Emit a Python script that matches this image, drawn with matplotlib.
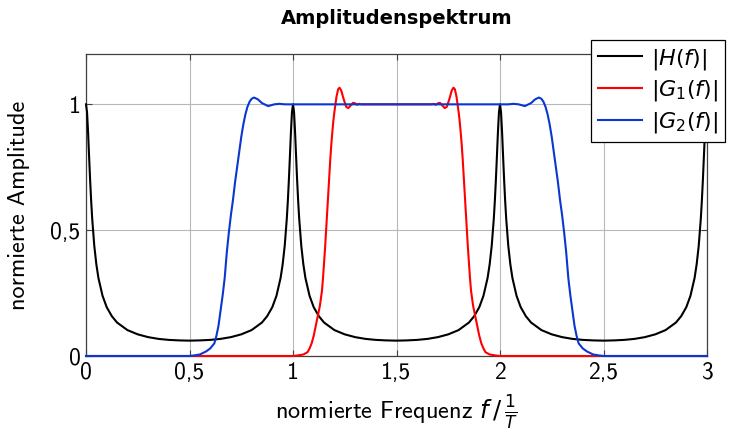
"""Amplitudenspektrum: comb response |H(f)| with two band-pass filters."""

import matplotlib
matplotlib.use("Agg")
import matplotlib.pyplot as plt

# |H(f)| - periodic comb response
h_freq = [
    0.000, 0.005, 0.010, 0.015, 0.020, 0.025, 0.030, 0.040, 0.050, 0.060,
    0.080, 0.100, 0.125, 0.150, 0.200, 0.250, 0.300, 0.350, 0.400, 0.450,
    0.500, 0.550, 0.600, 0.650, 0.700, 0.750, 0.800, 0.850, 0.875, 0.900,
    0.920, 0.940, 0.950, 0.960, 0.970, 0.975, 0.980, 0.985, 0.990, 0.995,
    1.000, 1.005, 1.010, 1.015, 1.020, 1.025, 1.030, 1.040, 1.050, 1.060,
    1.080, 1.100, 1.125, 1.150, 1.200, 1.250, 1.300, 1.350, 1.400, 1.450,
    1.500, 1.550, 1.600, 1.650, 1.700, 1.750, 1.800, 1.850, 1.875, 1.900,
    1.920, 1.940, 1.950, 1.960, 1.970, 1.975, 1.980, 1.985, 1.990, 1.995,
    2.000, 2.005, 2.010, 2.015, 2.020, 2.025, 2.030, 2.040, 2.050, 2.060,
    2.080, 2.100, 2.125, 2.150, 2.200, 2.250, 2.300, 2.350, 2.400, 2.450,
    2.500, 2.550, 2.600, 2.650, 2.700, 2.750, 2.800, 2.850, 2.875, 2.900,
    2.920, 2.940, 2.950, 2.960, 2.970, 2.975, 2.980, 2.985, 2.990, 2.995,
    3.000,
]
h_amp = [
    1.000, 0.969, 0.889, 0.792, 0.698, 0.615, 0.545, 0.438, 0.364, 0.310,
    0.239, 0.194, 0.158, 0.133, 0.103, 0.086, 0.075, 0.068, 0.064, 0.062,
    0.061, 0.062, 0.064, 0.068, 0.075, 0.086, 0.103, 0.133, 0.158, 0.194,
    0.239, 0.310, 0.364, 0.438, 0.545, 0.615, 0.698, 0.792, 0.889, 0.969,
    1.000, 0.969, 0.889, 0.792, 0.698, 0.615, 0.545, 0.438, 0.364, 0.310,
    0.239, 0.194, 0.158, 0.133, 0.103, 0.086, 0.075, 0.068, 0.064, 0.062,
    0.061, 0.062, 0.064, 0.068, 0.075, 0.086, 0.103, 0.133, 0.158, 0.194,
    0.239, 0.310, 0.364, 0.438, 0.545, 0.615, 0.698, 0.792, 0.889, 0.969,
    1.000, 0.969, 0.889, 0.792, 0.698, 0.615, 0.545, 0.438, 0.364, 0.310,
    0.239, 0.194, 0.158, 0.133, 0.103, 0.086, 0.075, 0.068, 0.064, 0.062,
    0.061, 0.062, 0.064, 0.068, 0.075, 0.086, 0.103, 0.133, 0.158, 0.194,
    0.239, 0.310, 0.364, 0.438, 0.545, 0.615, 0.698, 0.792, 0.889, 0.969,
    1.000,
]

# |G1(f)| - narrow band-pass
g1_freq = [
    0.000, 1.000, 1.020, 1.050, 1.070, 1.080, 1.090, 1.100, 1.110, 1.120,
    1.130, 1.140, 1.145, 1.150, 1.155, 1.160, 1.165, 1.170, 1.175, 1.180,
    1.185, 1.190, 1.195, 1.200, 1.205, 1.210, 1.218, 1.225, 1.233, 1.245,
    1.257, 1.267, 1.278, 1.290, 1.300, 1.310, 1.320, 1.330, 1.500,
    1.670, 1.680, 1.690, 1.700, 1.710, 1.722, 1.733, 1.743, 1.755, 1.767,
    1.775, 1.782, 1.790, 1.795, 1.800, 1.805, 1.810, 1.815, 1.820, 1.825,
    1.830, 1.835, 1.840, 1.845, 1.850, 1.855, 1.860, 1.870, 1.880, 1.890,
    1.900, 1.910, 1.920, 1.930, 1.950, 1.980, 2.000, 3.000,
]
g1_amp = [
    0.000, 0.000, 0.002, 0.006, 0.015, 0.030, 0.050, 0.080, 0.120, 0.160,
    0.200, 0.260, 0.310, 0.370, 0.430, 0.500, 0.570, 0.640, 0.710, 0.780,
    0.840, 0.890, 0.935, 0.970, 1.000, 1.030, 1.060, 1.066, 1.055, 1.020,
    0.990, 0.985, 0.995, 1.006, 1.004, 0.998, 1.002, 1.000, 1.000,
    1.000, 1.002, 0.998, 1.004, 1.006, 0.995, 0.985, 0.990, 1.020, 1.055,
    1.066, 1.060, 1.030, 1.000, 0.970, 0.935, 0.890, 0.840, 0.780, 0.710,
    0.640, 0.570, 0.500, 0.430, 0.370, 0.310, 0.260, 0.200, 0.160, 0.120,
    0.080, 0.050, 0.030, 0.015, 0.006, 0.002, 0.000, 0.000,
]

# |G2(f)| - wide band-pass
g2_freq = [
    0.000, 0.500, 0.520, 0.550, 0.580, 0.600, 0.620, 0.630, 0.640, 0.650,
    0.660, 0.670, 0.680, 0.690, 0.700, 0.710, 0.720, 0.730, 0.740, 0.750,
    0.760, 0.770, 0.780, 0.790, 0.800, 0.812, 0.830, 0.850, 0.880, 0.910,
    0.935, 0.960, 1.000, 1.500,
    2.000, 2.040, 2.065, 2.090, 2.120, 2.150, 2.170, 2.188, 2.200, 2.210,
    2.220, 2.230, 2.240, 2.250, 2.260, 2.270, 2.280, 2.290, 2.300, 2.310,
    2.320, 2.330, 2.340, 2.350, 2.360, 2.370, 2.380, 2.400, 2.420, 2.450,
    2.480, 2.500, 3.000,
]
g2_amp = [
    0.000, 0.000, 0.002, 0.006, 0.018, 0.030, 0.050, 0.080, 0.120, 0.180,
    0.240, 0.310, 0.410, 0.490, 0.560, 0.620, 0.690, 0.750, 0.810, 0.870,
    0.920, 0.960, 0.990, 1.010, 1.022, 1.027, 1.020, 1.005, 0.993, 1.000,
    1.002, 1.000, 1.000, 1.000,
    1.000, 1.000, 1.002, 1.000, 0.993, 1.005, 1.020, 1.027, 1.022, 1.010,
    0.990, 0.960, 0.920, 0.870, 0.810, 0.750, 0.690, 0.620, 0.560, 0.490,
    0.410, 0.310, 0.240, 0.180, 0.120, 0.080, 0.050, 0.030, 0.018, 0.006,
    0.002, 0.000, 0.000,
]

x_ticks = [0, 0.5, 1, 1.5, 2, 2.5, 3]
x_tick_labels = ["0", "0,5", "1", "1,5", "2", "2,5", "3"]
y_ticks = [0, 0.5, 1]
y_tick_labels = ["0", "0,5", "1"]

plt.rcParams["font.family"] = ["cmss10", "DejaVu Sans"]
plt.rcParams["mathtext.fontset"] = "dejavusans"
plt.rcParams["axes.formatter.use_mathtext"] = True
plt.rcParams["axes.unicode_minus"] = False

fig = plt.figure(figsize=(7.35, 4.30), dpi=100)
ax = fig.add_axes([86 / 735, 1 - 356 / 430, 621 / 735, 302 / 430])

ax.plot(h_freq, h_amp, color="black", lw=1.5, label=r"$|H(f)|$", clip_on=False, zorder=3)
ax.plot(g1_freq, g1_amp, color="#ff0000", lw=1.5, label=r"$|G_1(f)|$", clip_on=False, zorder=4)
ax.plot(g2_freq, g2_amp, color="#0a37d2", lw=1.5, label=r"$|G_2(f)|$", clip_on=False, zorder=5)

ax.set_xlim(0, 3)
ax.set_ylim(0, 1.2)
ax.set_xticks(x_ticks)
ax.set_xticklabels(x_tick_labels)
ax.set_yticks(y_ticks)
ax.set_yticklabels(y_tick_labels)
ax.tick_params(direction="in", length=4, width=0.8, color="#404040",
               top=True, right=True, labelsize=17, pad=4)
ax.grid(True, color="#b8b8b8", lw=0.8)
ax.set_axisbelow(True)
for spine in ax.spines.values():
    spine.set_color("#404040")
    spine.set_linewidth(0.9)

ax.set_xlabel(r"normierte Frequenz $f\,/\,\frac{1}{T}$", fontsize=17.5)
ax.xaxis.set_label_coords(0.5, -0.125)
ax.set_ylabel("normierte Amplitude", fontsize=17.5)
ax.yaxis.set_label_coords(-0.09, 0.5)

fig.text(396.5 / 735, 1 - 18 / 430, "Amplitudenspektrum", ha="center", va="center",
         fontsize=14, fontweight="bold", family=["DejaVu Sans"])

leg = ax.legend(loc="upper left", bbox_to_anchor=(505 / 621, 316 / 302), fontsize=16,
                frameon=True, fancybox=False, framealpha=1, edgecolor="black",
                handlelength=2.0, handletextpad=0.4, labelspacing=0.3,
                borderpad=0.3, borderaxespad=0)
leg.get_frame().set_linewidth(0.9)
leg.set_zorder(10)

fig.savefig("out.png", dpi=100)
